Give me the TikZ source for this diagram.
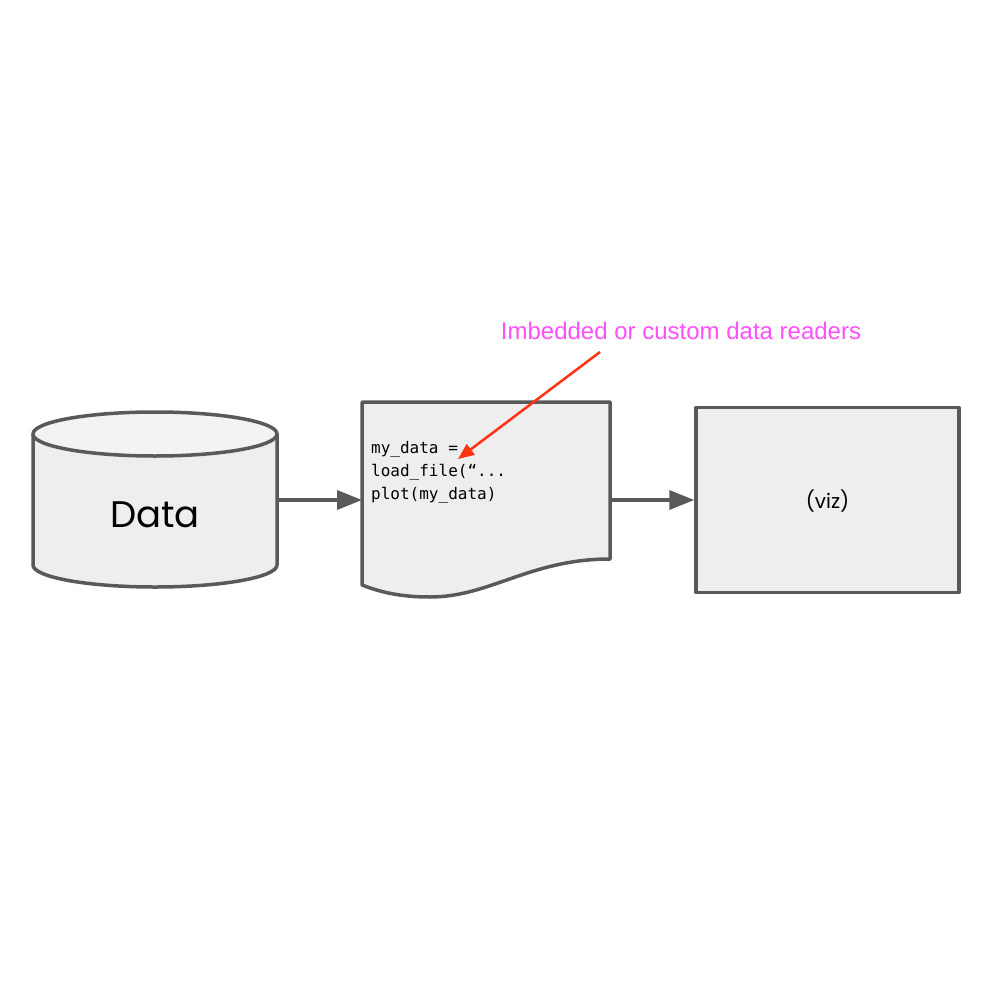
\documentclass[tikz,border=0pt]{standalone}
\usepackage{fontspec}
\setmainfont{Liberation Sans}
\newfontfamily\geofont{Poppins}
\newfontfamily\codefont{DejaVu Sans Mono}
\usetikzlibrary{arrows.meta}
\definecolor{strokegray}{HTML}{595959}
\definecolor{fillgray}{HTML}{EEEEEE}
\definecolor{topgray}{HTML}{F3F3F3}
\definecolor{notepink}{HTML}{FF4FFF}
\definecolor{notered}{HTML}{FF3311}
\tikzset{
  shapeline/.style={draw=strokegray, line width=3.5pt, line join=round},
  conn/.style={draw=strokegray, line width=3.5pt, -{Triangle[length=25pt,width=19pt]}},
  redarrow/.style={draw=notered, line width=2.5pt, -{Triangle[length=16pt,width=13pt]}},
  anchorbox/.style={inner sep=0pt, outer sep=0pt, draw=none},
}
\begin{document}
\begin{tikzpicture}[x=1pt,y=-1pt]
\useasboundingbox (0,0) rectangle (1000,1000);
\fill[white] (0,0) rectangle (1000,1000);

% cylinder
\node[anchorbox, minimum width=244pt, minimum height=175pt] (data) at (155,500) {};
\path[shapeline, fill=fillgray] (33,434) -- (33,565)
  .. controls (33,577.15) and (87.6,587) .. (155,587)
  .. controls (222.4,587) and (277,577.15) .. (277,565) -- (277,434) -- cycle;
\path[shapeline, fill=topgray] (155,434) ellipse [x radius=122, y radius=22];
\node[font=\geofont\fontsize{37}{40}\selectfont, anchor=base] (datalabel) at (155,527) {Data};

% document
\node[anchorbox, minimum width=248pt, minimum height=196pt] (doc) at (486,500) {};
\path[shapeline, fill=fillgray] (362,402) -- (610,402) -- (610,559)
  .. controls (530,559) and (490,597) .. (430,597)
  .. controls (400,597) and (380,592) .. (362,585) -- cycle;
\node[font=\codefont\fontsize{16}{23}\selectfont, anchor=north west, align=left, inner sep=0pt] (code) at (371,441)
  {my\_data =\\load\_file(“...\\plot(my\_data)};

% viz
\node[shapeline, fill=fillgray, minimum width=263pt, minimum height=185pt, inner sep=0pt] (viz) at (827.5,500) {};
\node[font=\geofont\fontsize{20}{22}\selectfont] (vizlabel) at (827.5,501) {(viz)};

% connectors
\draw[conn] (data.east) -- (doc.west);
\draw[conn] (doc.east) -- (viz.west);

% note
\node[font=\fontsize{24}{26}\selectfont, text=notepink] (note) at (681,331) {Imbedded or custom data readers};
\coordinate (notestart) at (600,352);
\coordinate (notetip) at (458,459);
\draw[redarrow] (notestart) -- (notetip);
\end{tikzpicture}
\end{document}
